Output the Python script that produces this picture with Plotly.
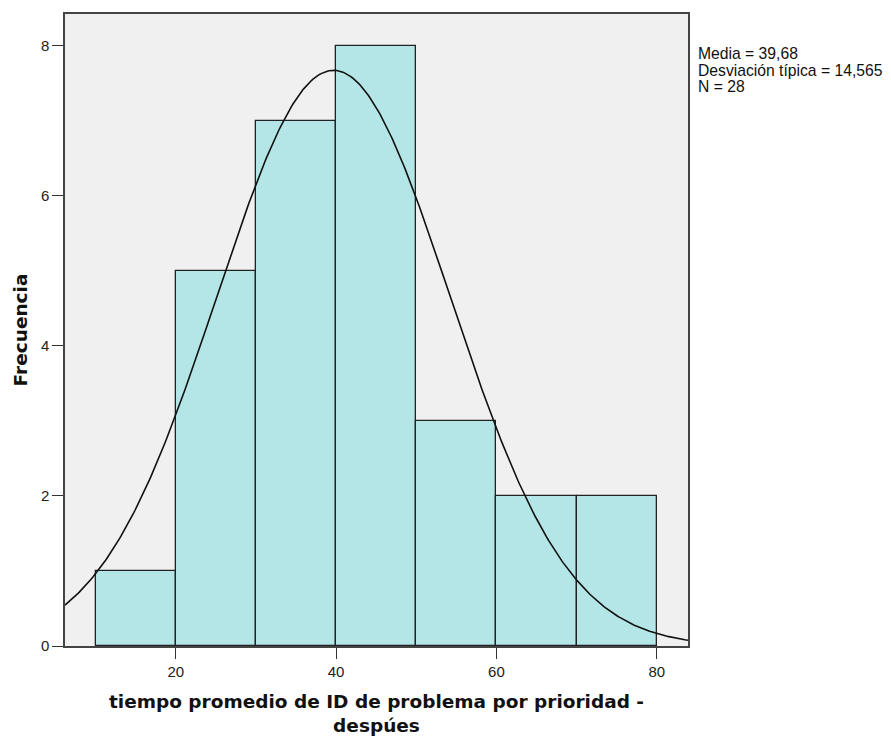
import numpy as np
import plotly.graph_objects as go

bin_starts = [10, 20, 30, 40, 50, 60, 70]
counts = [1, 5, 7, 8, 3, 2, 2]
bin_width = 10
mean = 39.68
sd = 14.565
n = 28
x_ticks = [20, 40, 60, 80]
y_ticks = [0, 2, 4, 6, 8]
stats_lines = ["Media = 39,68", "Desviación típica = 14,565", "N = 28"]

x_range = [6.19, 83.89]
centers = [s + bin_width / 2 for s in bin_starts]
xs = np.linspace(x_range[0], x_range[1], 400)
ys = n * bin_width / (sd * np.sqrt(2 * np.pi)) * np.exp(-0.5 * ((xs - mean) / sd) ** 2)

fig = go.Figure()
fig.add_trace(go.Bar(x=centers, y=counts, width=bin_width,
                     marker=dict(color="#b4e6e8", line=dict(color="#222222", width=1.3)),
                     hoverinfo="skip"))
fig.add_trace(go.Scatter(x=xs, y=ys, mode="lines",
                         line=dict(color="#111111", width=1.6), hoverinfo="skip"))

fig.update_layout(
    width=883, height=728,
    margin=dict(l=57, r=203, t=6, b=90, autoexpand=False),
    plot_bgcolor="#f0f0f0", paper_bgcolor="white",
    showlegend=False, bargap=0,
    font=dict(family="Liberation Sans, Arial", size=15, color="#222222"),
)
fig.update_xaxes(range=x_range, tickvals=x_ticks, ticks="outside", ticklen=11,
                 tickcolor="#333333", tickwidth=1.3, showgrid=False, zeroline=False,
                 showline=True, linecolor="#444444", linewidth=1.5, mirror=True,
                 automargin=False,
                 tickfont=dict(size=15, color="#222222"),
                 title=dict(text="<b>tiempo promedio de ID de problema por prioridad -<br>despúes</b>",
                            font=dict(family="DejaVu Sans", size=18.5, color="#111111"),
                            standoff=16))
fig.update_yaxes(range=[0, 8.42], tickvals=y_ticks, ticks="outside", ticklen=11,
                 tickcolor="#333333", tickwidth=1.3, showgrid=False, zeroline=False,
                 showline=True, linecolor="#444444", linewidth=1.5, mirror=True,
                 automargin=False,
                 tickfont=dict(size=15, color="#222222"),
                 title=dict(text="<b>Frecuencia</b>",
                            font=dict(family="DejaVu Sans", size=18.5, color="#111111"),
                            standoff=8))
for i, line in enumerate(stats_lines):
    fig.add_annotation(xref="paper", yref="paper", x=1.0, y=1.0, xshift=8,
                       yshift=-39.5 - 16.5 * i,
                       xanchor="left", yanchor="middle", align="left", showarrow=False,
                       text=line,
                       font=dict(family="Liberation Sans, Arial", size=15.7, color="#111111"))
fig.write_html("out.html")
